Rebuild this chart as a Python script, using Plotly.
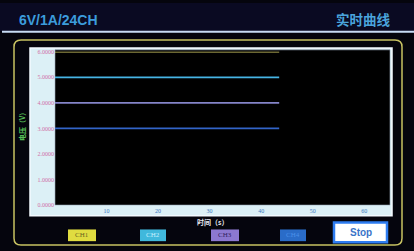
import plotly.graph_objects as go

# ---- data ----
time_s = [0, 10, 20, 30, 40, 43.5]
ch1_v = [6.0, 6.0, 6.0, 6.0, 6.0, 6.0]
ch2_v = [5.0, 5.0, 5.0, 5.0, 5.0, 5.0]
ch3_v = [4.0, 4.0, 4.0, 4.0, 4.0, 4.0]
ch4_v = [3.0, 3.0, 3.0, 3.0, 3.0, 3.0]
channel_names = ["CH1", "CH2", "CH3", "CH4"]
y_ticks = [0, 1, 2, 3, 4, 5, 6]
x_ticks = [10, 20, 30, 40, 50, 60]

W, H = 414, 251
def px(x):
    return x / W
def py(y):
    return 1 - y / H

colors = ["#d8d068", "#46b4e4", "#8484c8", "#3264c8"]
series = [ch1_v, ch2_v, ch3_v, ch4_v]

fig = go.Figure()
for name, vals, c in zip(channel_names, series, colors):
    fig.add_trace(go.Scatter(x=time_s, y=vals, mode="lines", name=name,
                             line=dict(color=c, width=1.6), cliponaxis=False,
                             showlegend=False, hoverinfo="skip"))

PL, PR, PT, PB = 55, 390, 50, 207

shapes = []
# header band
shapes.append(dict(type="rect", xref="paper", yref="paper", x0=0, x1=1, y0=py(29), y1=1,
                   fillcolor="#0a0a22", line=dict(width=0), layer="below"))
shapes.append(dict(type="line", xref="paper", yref="paper", x0=px(2), x1=1, y0=py(29.5), y1=py(29.5),
                   line=dict(color="#c8dcf4", width=2)))
# yellow rounded frame
l, t, r, b, rad = px(14), py(38), px(402), py(248), 7
rx, ry = rad / W, rad / H
path = (f"M {l+rx},{t} L {r-rx},{t} Q {r},{t} {r},{t-ry} L {r},{b+ry} Q {r},{b} {r-rx},{b} "
        f"L {l+rx},{b} Q {l},{b} {l},{b+ry} L {l},{t-ry} Q {l},{t} {l+rx},{t} Z")
shapes.append(dict(type="path", xref="paper", yref="paper", path=path,
                   line=dict(color="#c8c262", width=1.5), layer="below"))
# light panel around plot
shapes.append(dict(type="rect", xref="paper", yref="paper", x0=px(30), x1=px(392), y0=py(218), y1=py(46),
                   fillcolor="#dcf0f6", line=dict(color="#f4faff", width=1.5), layer="below"))
# black plotting field
shapes.append(dict(type="rect", xref="paper", yref="paper", x0=px(PL), x1=px(PR), y0=py(PB), y1=py(PT - 2),
                   fillcolor="#000000", line=dict(color="#9aa8b8", width=0.6), layer="below"))

annotations = []
annotations.append(dict(text="<b>6V/1A/24CH</b>", xref="paper", yref="paper", x=px(17), y=py(17),
                        xanchor="left", yanchor="middle", showarrow=False,
                        font=dict(family="Liberation Sans, Arial", size=14, color="#3c9cdc")))
annotations.append(dict(text="<b>实时曲线</b>", xref="paper", yref="paper", x=px(393), y=py(16),
                        xanchor="right", yanchor="middle", showarrow=False,
                        font=dict(family="Noto Sans CJK SC", size=13.5, color="#4aa4dc")))
annotations.append(dict(text="<b>电压（V）</b>", xref="paper", yref="paper", x=px(22), y=py(125),
                        xanchor="center", yanchor="middle", showarrow=False, textangle=-90,
                        font=dict(family="Noto Sans CJK SC", size=7, color="#58c058")))
annotations.append(dict(text="<b>时间（s）</b>", xref="paper", yref="paper", x=px(212), y=py(224),
                        xanchor="center", yanchor="middle", showarrow=False,
                        font=dict(family="Noto Sans CJK SC", size=7, color="#e8e8f0")))

btn_x = [(68, 96), (140, 166), (211, 239), (280, 306)]
btn_fill = ["#e0dc40", "#40b8dc", "#8c78d0", "#2a6cc8"]
btn_text = ["#6a6420", "#c8f0ff", "#302060", "#4a90e8"]
for (x0, x1), f, tc, name in zip(btn_x, btn_fill, btn_text, channel_names):
    shapes.append(dict(type="rect", xref="paper", yref="paper", x0=px(x0), x1=px(x1),
                       y0=py(244), y1=py(232), fillcolor=f, line=dict(width=0)))
    annotations.append(dict(text=name, xref="paper", yref="paper", x=px((x0 + x1) / 2), y=py(238),
                            xanchor="center", yanchor="middle", showarrow=False,
                            font=dict(family="Liberation Serif", size=7, color=tc)))
# Stop button
shapes.append(dict(type="rect", xref="paper", yref="paper", x0=px(334), x1=px(387),
                   y0=py(245), y1=py(225), fillcolor="#ffffff", line=dict(color="#2e7cf0", width=2.5)))
annotations.append(dict(text="<b>Stop</b>", xref="paper", yref="paper", x=px(360.5), y=py(235),
                        xanchor="center", yanchor="middle", showarrow=False,
                        font=dict(family="Liberation Sans, Arial", size=10, color="#3a74c8")))

fig.update_layout(
    width=W, height=H,
    margin=dict(l=0, r=0, t=0, b=0),
    paper_bgcolor="#05050d",
    plot_bgcolor="#000000",
    shapes=shapes,
    annotations=annotations,
    xaxis=dict(domain=[px(PL), px(PR)], range=[0, 65], tickvals=x_ticks,
               ticktext=[str(v) for v in x_ticks], showgrid=False, zeroline=False,
               ticks="", tickfont=dict(family="Liberation Serif", size=6, color="#3a78c0"),
               ticklabelstandoff=1, fixedrange=True),
    yaxis=dict(domain=[py(PB), py(PT)], range=[0, 6], tickvals=y_ticks,
               ticktext=[f"{v:.4f}" for v in y_ticks], showgrid=False, zeroline=False,
               ticks="", tickfont=dict(family="Liberation Serif", size=6, color="#d070a8"),
               fixedrange=True),
)

fig.write_html("out.html", config={"displayModeBar": False},
               post_script="document.body.style.margin='0';document.body.style.background='#05050d';")
